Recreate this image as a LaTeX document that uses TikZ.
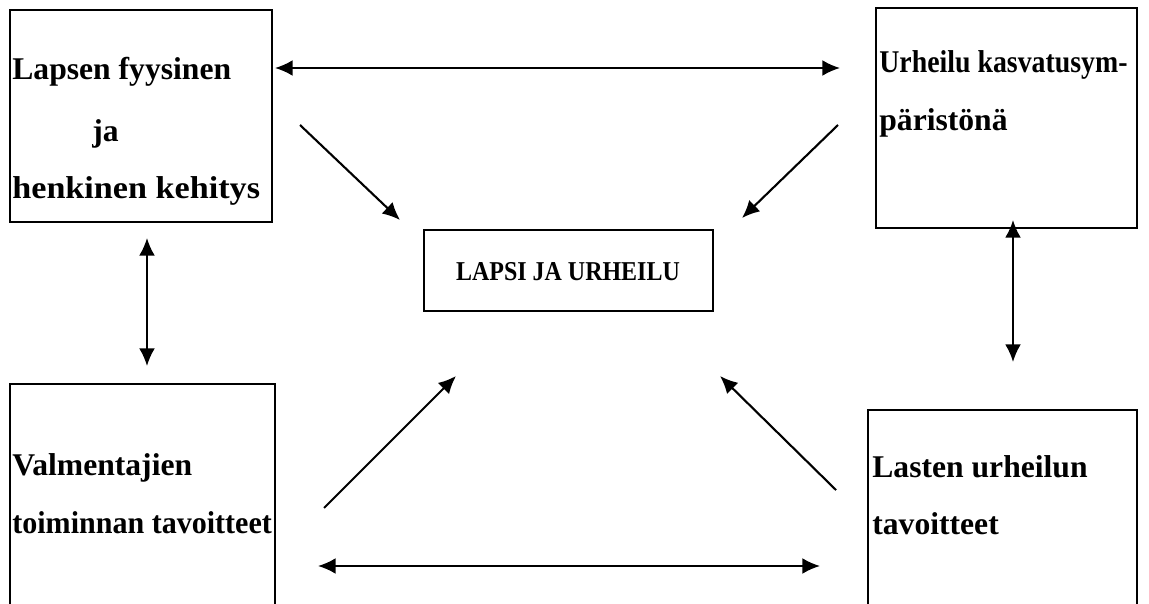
\documentclass[tikz,border=0pt]{standalone}
\usepackage{fontspec}
\setmainfont{Liberation Serif}
\usetikzlibrary{arrows.meta}
\tikzset{
  frame/.style={draw, line width=1.1pt},
  lbl/.style={anchor=base west, inner sep=0pt, font=\fontsize{18}{20}\selectfont\bfseries},
  title/.style={anchor=center, inner sep=0pt, font=\fontsize{15.5}{17}\selectfont\bfseries},
  tip/.tip={Latex[length=10pt,width=9pt]},
  link/.style={line width=1.2pt, -tip},
  both/.style={line width=1.2pt, tip-tip}
}
\begin{document}
\begin{tikzpicture}[x=0.02cm, y=-0.02cm]
\useasboundingbox (0,0) rectangle (1149,604);
\clip (0,0) rectangle (1149,604);

% boxes
\draw[frame] (10,10) rectangle (272,222);
\draw[frame] (876,8) rectangle (1137,228);
\draw[frame] (424,230) rectangle (713,311);
\draw[frame] (10,384) rectangle (275,640);
\draw[frame] (868,410) rectangle (1137,640);

% texts
\node[lbl] (tl1) at (12,80) {Lapsen fyysinen};
\node[lbl] (tl2) at (92,142) {ja};
\node[lbl] (tl3) at (12,199) {\scalebox{1.08}[1]{henkinen kehitys}};
\node[lbl] (tr1) at (879,73) {\scalebox{0.88}[1]{Urheilu kasvatusym-}};
\node[lbl] (tr2) at (879,131) {päristönä};
\node[title] (mid) at (568,272) {\scalebox{0.88}[1]{LAPSI JA URHEILU}};
\node[lbl] (bl1) at (12,475) {Valmentajien};
\node[lbl] (bl2) at (12,533) {\scalebox{0.95}[1]{toiminnan tavoitteet}};
\node[lbl] (br1) at (872,477) {Lasten urheilun};
\node[lbl] (br2) at (872,534) {tavoitteet};

% arrow end points
\coordinate (h1a) at (275,68);   \coordinate (h1b) at (840,68);
\coordinate (h2a) at (318,566);  \coordinate (h2b) at (820,566);
\coordinate (v1a) at (147,238);  \coordinate (v1b) at (147,366);
\coordinate (v2a) at (1013,220); \coordinate (v2b) at (1013,362);
\coordinate (d1a) at (300,125);  \coordinate (d1b) at (400,220);
\coordinate (d2a) at (838,125);  \coordinate (d2b) at (742,218);
\coordinate (d3a) at (324,508);  \coordinate (d3b) at (456,376);
\coordinate (d4a) at (836,490);  \coordinate (d4b) at (720,376);

\draw[both] (h1a) -- (h1b);
\draw[both] (h2a) -- (h2b);
\draw[both] (v1a) -- (v1b);
\draw[both] (v2a) -- (v2b);
\draw[link] (d1a) -- (d1b);
\draw[link] (d2a) -- (d2b);
\draw[link] (d3a) -- (d3b);
\draw[link] (d4a) -- (d4b);
\end{tikzpicture}
\end{document}
